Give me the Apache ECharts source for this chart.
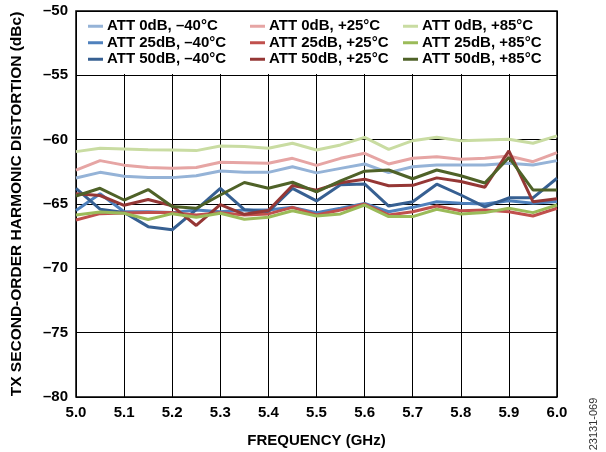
<!DOCTYPE html>
<html><head><meta charset="utf-8">
<script src="https://cdn.jsdelivr.net/npm/echarts@6/dist/echarts.min.js"></script>
<style>html,body{margin:0;padding:0;background:#fff}#c{width:606px;height:452px}</style>
</head><body><div id="c"></div>
<script>
const freq = [5.00,5.05,5.10,5.15,5.20,5.25,5.30,5.35,5.40,5.45,5.50,5.55,5.60,5.65,5.70,5.75,5.80,5.85,5.90,5.95,6.00];
const xTicks = [5.0,5.1,5.2,5.3,5.4,5.5,5.6,5.7,5.8,5.9,6.0];
const yTicks = [-80,-75,-70,-65,-60,-55,-50];
const names = ['ATT 0dB, –40°C','ATT 25dB, –40°C','ATT 50dB, –40°C','ATT 0dB, +25°C','ATT 25dB, +25°C','ATT 50dB, +25°C','ATT 0dB, +85°C','ATT 25dB, +85°C','ATT 50dB, +85°C'];
const att0m40  = [-62.98,-62.54,-62.84,-62.94,-62.95,-62.80,-62.43,-62.54,-62.54,-62.10,-62.58,-62.23,-61.89,-62.56,-62.10,-61.97,-61.97,-61.97,-61.84,-61.97,-61.63];
const att25m40 = [-65.50,-64.20,-65.60,-65.60,-65.67,-65.46,-65.60,-65.46,-65.46,-65.26,-65.67,-65.33,-64.95,-65.60,-65.26,-64.82,-64.95,-65.00,-64.75,-64.95,-64.80];
const att50m40 = [-63.78,-65.40,-65.65,-66.76,-67.00,-65.44,-63.78,-65.44,-65.60,-63.78,-64.76,-63.50,-63.44,-65.16,-64.82,-63.46,-64.30,-65.22,-64.52,-64.52,-63.00];
const att0p25  = [-62.36,-61.63,-61.98,-62.17,-62.22,-62.17,-61.76,-61.79,-61.84,-61.45,-62.00,-61.45,-61.06,-61.89,-61.45,-61.32,-61.53,-61.45,-61.27,-61.71,-61.01];
const att25p25 = [-66.24,-65.75,-65.70,-65.67,-65.67,-65.85,-65.67,-65.85,-65.77,-65.26,-65.85,-65.46,-65.00,-65.85,-65.60,-65.15,-65.52,-65.46,-65.60,-65.93,-65.33];
const att50p25 = [-64.20,-64.34,-65.10,-64.65,-65.14,-66.67,-65.04,-65.80,-65.50,-63.56,-63.92,-63.35,-63.07,-63.58,-63.55,-62.97,-63.25,-63.70,-60.87,-64.82,-64.60];
const att0p85  = [-60.93,-60.67,-60.72,-60.78,-60.80,-60.85,-60.49,-60.54,-60.67,-60.28,-60.80,-60.41,-59.82,-60.75,-60.08,-59.82,-60.08,-60.02,-59.97,-60.28,-59.71];
const att25p85 = [-65.85,-65.62,-65.72,-66.20,-65.75,-66.03,-65.72,-66.19,-66.03,-65.52,-65.93,-65.77,-65.08,-65.98,-65.98,-65.41,-65.77,-65.67,-65.33,-65.67,-65.08];
const att50p85 = [-64.38,-63.78,-64.69,-63.88,-65.20,-65.33,-64.30,-63.33,-63.78,-63.31,-64.05,-63.20,-62.45,-62.36,-63.04,-62.36,-62.80,-63.37,-61.38,-63.91,-63.91];
const values = [att0m40,att25m40,att50m40,att0p25,att25p25,att50p25,att0p85,att25p85,att50p85];
const colors = ['#95B3D7','#4F81BD','#376092','#E6A5A4','#C0504D','#953735','#C9DCA2','#9BBB59','#4F6228'];

const chart = echarts.init(document.getElementById('c'));
const font = 'Liberation Sans, Arial, sans-serif';
const series = names.map((n,i)=>({
  name:n, type:'line', data:freq.map((f,j)=>[f,values[i][j]]),
  showSymbol:false, symbol:'none', lineStyle:{width:3,color:colors[i]}, itemStyle:{color:colors[i]},
  z: 2+i, animation:false
}));
const legendCommon = {orient:'vertical', itemWidth:15, itemHeight:3, itemGap:0, icon:'rect',
  textStyle:{fontFamily:font,fontWeight:'bold',fontSize:15,color:'#000',padding:[0,0,0,-1],lineHeight:16.5}, z:10, selectedMode:false};
chart.setOption({
  animation:false,
  grid:{left:76,right:49,top:11,bottom:55,containLabel:false,outerBoundsMode:'none',show:true,borderColor:'#000',borderWidth:1.5,backgroundColor:'transparent'},
  xAxis:{type:'value',min:5,max:6,interval:0.1,
    axisLine:{show:false},axisTick:{show:false},
    splitLine:{show:true,lineStyle:{color:'#000',width:1}},
    axisLabel:{formatter:v=>{const t=xTicks.find(x=>Math.abs(x-v)<1e-6);return t===undefined?'':t.toFixed(1);},fontFamily:font,fontWeight:'bold',fontSize:15,color:'#000',margin:8},
    name:'FREQUENCY (GHz)',nameLocation:'middle',nameGap:36,nameTextStyle:{fontFamily:font,fontWeight:'bold',fontSize:15,color:'#000'}},
  yAxis:{type:'value',min:-80,max:-50,interval:5,
    axisLine:{show:false},axisTick:{show:false},
    splitLine:{show:true,lineStyle:{color:'#000',width:1}},
    axisLabel:{formatter:v=>{const t=yTicks.find(x=>Math.abs(x-v)<1e-6);return t===undefined?'':'–'+Math.abs(t);},fontFamily:font,fontWeight:'bold',fontSize:15,color:'#000',margin:8},
    name:'TX SECOND-ORDER HARMONIC DISTORTION (dBc)',nameLocation:'middle',nameGap:51,nameRotate:90,
    nameTextStyle:{fontFamily:font,fontWeight:'bold',fontSize:15.5,color:'#000'}},
  graphic:[
    {type:'rect',shape:{x:77,y:12,width:479,height:62},style:{fill:'#fff'},z:5},
    {type:'text',x:594,y:424,rotation:Math.PI/2,style:{text:'23131-069',font:'11px '+font,fill:'#333',textAlign:'center',textVerticalAlign:'middle'},z:10}
  ],
  legend:[
    Object.assign({left:83,top:13,data:names.slice(0,3)},legendCommon),
    Object.assign({left:245,top:13,data:names.slice(3,6)},legendCommon),
    Object.assign({left:398,top:13,data:names.slice(6,9)},legendCommon)
  ],
  series:series
});
</script></body></html>
